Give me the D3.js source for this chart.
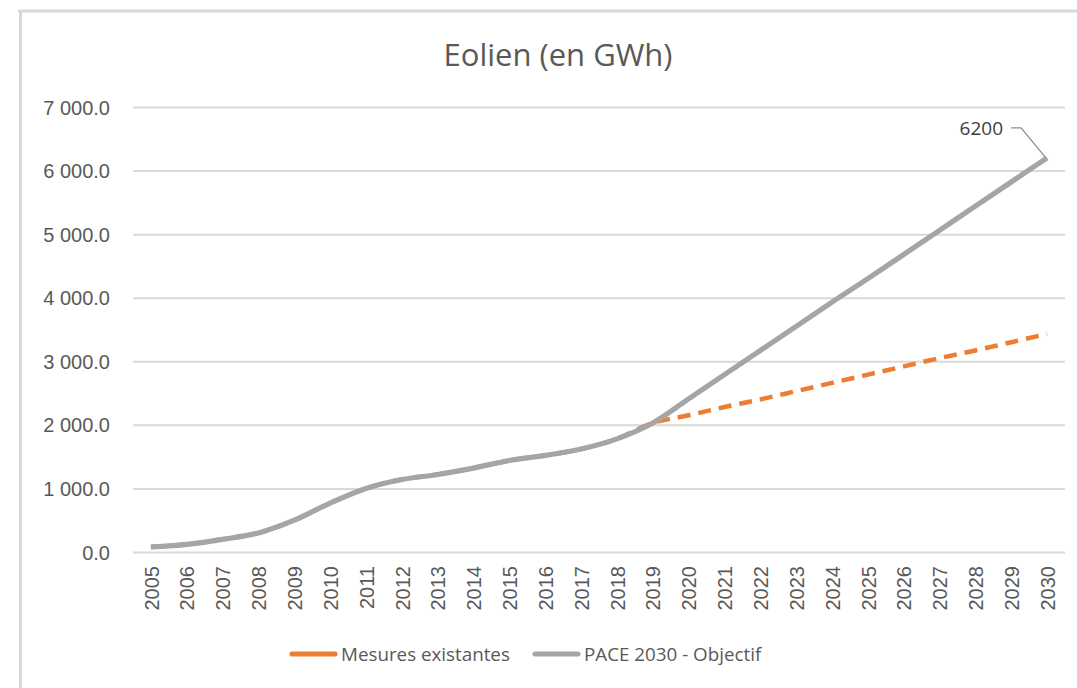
<!DOCTYPE html>
<html>
<head>
<meta charset="utf-8">
<script src="https://d3js.org/d3.v7.min.js"></script>
<style>
body { margin: 0; background: #fff; }
svg { font-family: "Open Sans", sans-serif; }
.grid line { stroke: #d9d9d9; stroke-width: 2; }
.grid .domain { display: none; }
.ylab text { fill: #595959; font-size: 20px; }
.xlab text { fill: #595959; font-size: 20px; }
.xlab .domain { display: none; }
.legend text { fill: #595959; font-size: 18.8px; }
</style>
</head>
<body>
<script>

var years = ["2005","2006","2007","2008","2009","2010","2011","2012","2013","2014","2015","2016","2017","2018","2019",
             "2020","2021","2022","2023","2024","2025","2026","2027","2028","2029","2030"];

// Mesures existantes (orange, dashed) - historical part sits under the grey line
var mesures = [80,120,200,300,500,770,1000,1140,1220,1320,1440,1520,1620,1780,2030,
               2150,2280,2400,2530,2660,2790,2920,3050,3170,3300,3430];

// PACE 2030 - Objectif (grey)
var pace = [80,120,200,300,500,770,1000,1140,1220,1320,1440,1520,1620,1780,2030,
            2410,2790,3170,3550,3930,4300,4680,5060,5440,5820,6200];

var yTicks = [0,1000,2000,3000,4000,5000,6000,7000];
var seriesNames = ["Mesures existantes", "PACE 2030 - Objectif"];
var seriesColors = ["#ed7d31", "#a5a5a5"];
var title = "Eolien (en GWh)";
var annotYear = "2030", annotValue = 6200;

var W = 1077, H = 688;
var plotLeft = 133, plotRight = 1065, plotTop = 107, plotBottom = 552;

var svg = d3.select("body").append("svg")
    .attr("width", W)
    .attr("height", H);

// chart frame (only the top and left edges are visible)
svg.append("line").attr("x1", 18).attr("x2", W).attr("y1", 11).attr("y2", 11)
    .attr("stroke", "#d9d9d9").attr("stroke-width", 3);
svg.append("line").attr("x1", 20.5).attr("x2", 20.5).attr("y1", 10).attr("y2", H)
    .attr("stroke", "#d9d9d9").attr("stroke-width", 3);

var x = d3.scalePoint()
    .domain(years)
    .range([plotLeft, plotRight])
    .padding(0.5);

var y = d3.scaleLinear()
    .domain([0, 7000])
    .range([plotBottom, plotTop]);

var loc = d3.formatLocale({decimal: ".", thousands: "\u00a0", grouping: [3], currency: ["", ""]});
var fmt = loc.format(",.1f");

svg.append("g")
    .attr("class", "grid ylab")
    .attr("transform", "translate(" + plotLeft + ",0)")
    .call(d3.axisLeft(y).tickValues(yTicks).tickSize(-(plotRight - plotLeft)).tickPadding(23).tickFormat(fmt))
  .selectAll("text")
    .attr("dy", "0.35em");

svg.append("g")
    .attr("class", "xlab")
    .attr("transform", "translate(0," + plotBottom + ")")
    .call(d3.axisBottom(x).tickSize(0))
  .selectAll("text")
    .attr("transform", "rotate(-90)")
    .attr("text-anchor", "end")
    .attr("x", -14)
    .attr("y", 0)
    .attr("dy", "0.36em");

var line = d3.line()
    .x(function(d, i) { return x(years[i]); })
    .y(function(d) { return y(d); })
    .curve(d3.curveCatmullRom.alpha(0.5));

svg.append("path")
    .datum(mesures)
    .attr("fill", "none")
    .attr("stroke", seriesColors[0])
    .attr("stroke-width", 4.5)
    .attr("stroke-dasharray", "13,8")
    .attr("d", line);

svg.append("path")
    .datum(pace)
    .attr("fill", "none")
    .attr("stroke", seriesColors[1])
    .attr("stroke-width", 5.2)
    .attr("stroke-linejoin", "round")
    .attr("d", line);

// data label with leader line
var ax = x(annotYear), ay = y(annotValue);
svg.append("path")
    .attr("d", "M" + (ax - 36) + "," + (ay - 30) + "H" + (ax - 26) + "L" + (ax - 2) + "," + (ay - 1))
    .attr("fill", "none")
    .attr("stroke", "#8c8c8c")
    .attr("stroke-width", 1.3);
svg.append("text")
    .attr("x", ax - 44)
    .attr("y", ay - 30)
    .attr("dy", "0.35em")
    .attr("text-anchor", "end")
    .attr("fill", "#404040")
    .style("font-size", "19px")
    .text(annotValue);

svg.append("text")
    .attr("x", 558)
    .attr("y", 55)
    .attr("dy", "0.35em")
    .attr("text-anchor", "middle")
    .attr("fill", "#595959")
    .style("font-size", "31px")
    .text(title);

// legend
var legendX = [290, 533];
var legend = svg.append("g").attr("class", "legend")
  .selectAll("g")
    .data(seriesNames)
  .enter().append("g")
    .attr("transform", function(d, i) { return "translate(" + legendX[i] + ",654)"; });

legend.append("line")
    .attr("x1", 2).attr("x2", 45)
    .attr("stroke", function(d, i) { return seriesColors[i]; })
    .attr("stroke-width", 5)
    .attr("stroke-linecap", "round");

legend.append("text")
    .attr("x", 51)
    .attr("dy", "0.35em")
    .text(function(d) { return d; });

</script>
</body>
</html>
